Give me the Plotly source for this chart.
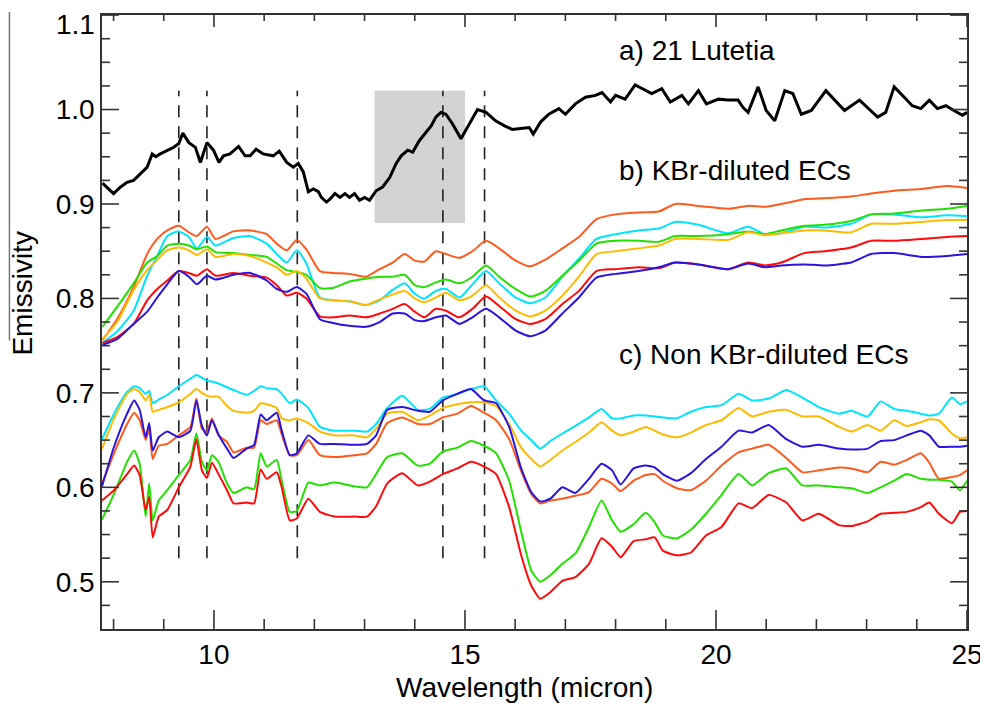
import plotly.graph_objects as go

# a) 21 Lutetia spectrum
lut_x = [7.78, 8.0, 8.14, 8.27, 8.4, 8.54, 8.67, 8.77, 8.84, 8.93, 9.07, 9.2, 9.3, 9.38, 9.5,
         9.63, 9.73, 9.86, 9.99, 10.1, 10.19, 10.32, 10.49, 10.62, 10.72, 10.84, 10.98, 11.18, 11.3, 11.45,
         11.58, 11.68, 11.78, 11.88, 11.98, 12.08, 12.14, 12.24, 12.31, 12.41, 12.51, 12.61, 12.7, 12.8, 12.9,
         13.0, 13.1, 13.23, 13.36, 13.5, 13.63, 13.73, 13.86, 13.96, 14.09, 14.22, 14.33, 14.42, 14.52, 14.62,
         14.75, 14.92, 15.09, 15.25, 15.42, 15.61, 15.78, 15.94, 16.11, 16.28, 16.36, 16.51, 16.67, 16.87, 17.0,
         17.2, 17.4, 17.6, 17.73, 17.9, 18.0, 18.19, 18.39, 18.59, 18.72, 18.92, 19.09, 19.32, 19.45, 19.65,
         19.81, 20.05, 20.24, 20.44, 20.54, 20.64, 20.84, 21.0, 21.17, 21.37, 21.53, 21.7, 21.9, 22.19, 22.56,
         22.86, 23.22, 23.38, 23.55, 23.75, 23.91, 24.08, 24.25, 24.41, 24.58, 24.74, 24.91, 25.0]
lut_y = [0.922, 0.911, 0.918, 0.923, 0.925, 0.932, 0.939, 0.953, 0.950, 0.953, 0.957, 0.960, 0.964, 0.975, 0.965,
         0.960, 0.944, 0.965, 0.957, 0.944, 0.951, 0.953, 0.961, 0.951, 0.951, 0.958, 0.953, 0.951, 0.956, 0.944,
         0.939, 0.943, 0.934, 0.913, 0.916, 0.913, 0.907, 0.902, 0.905, 0.911, 0.907, 0.911, 0.907, 0.911, 0.904,
         0.907, 0.904, 0.914, 0.918, 0.928, 0.943, 0.951, 0.957, 0.955, 0.967, 0.976, 0.983, 0.992, 0.997, 0.995,
         0.985, 0.969, 0.985, 1.000, 0.997, 0.988, 0.983, 0.979, 0.980, 0.981, 0.974, 0.987, 0.995, 1.001, 0.995,
         1.006, 1.013, 1.015, 1.018, 1.008, 1.015, 1.011, 1.026, 1.020, 1.017, 1.022, 1.008, 1.015, 1.006, 1.020,
         1.006, 1.011, 1.010, 1.010, 1.002, 0.997, 1.024, 0.999, 0.988, 1.020, 1.017, 0.995, 0.999, 1.020, 0.999,
         1.010, 0.992, 0.997, 1.024, 1.013, 1.004, 1.001, 1.010, 1.001, 1.004, 0.999, 0.994, 0.997]

# b) KBr-diluted ECs
kbr_x = [7.78, 8.07, 8.40, 8.67, 8.87, 9.07, 9.30, 9.50, 9.66, 9.86, 10.03, 10.39, 10.72, 11.05, 11.25,
         11.45, 11.65, 11.84, 12.11, 12.37, 12.70, 13.03, 13.30, 13.56, 13.80, 14.00, 14.19, 14.42, 14.62, 14.89,
         15.15, 15.42, 15.68, 16.01, 16.30, 16.60, 16.94, 17.27, 17.62, 18.00, 18.46, 18.86, 19.19, 19.65, 20.24,
         20.64, 20.97, 21.30, 21.76, 22.16, 22.69, 23.09, 23.55, 24.10, 24.60, 25.0]
kbr_orange = [0.756, 0.778, 0.812, 0.847, 0.863, 0.872, 0.877, 0.870, 0.866, 0.876, 0.863, 0.871, 0.872, 0.868, 0.858,
              0.851, 0.862, 0.852, 0.829, 0.827, 0.826, 0.823, 0.831, 0.838, 0.847, 0.840, 0.839, 0.850, 0.847, 0.843,
              0.850, 0.861, 0.853, 0.840, 0.834, 0.841, 0.853, 0.865, 0.884, 0.889, 0.891, 0.892, 0.900, 0.898, 0.895,
              0.898, 0.897, 0.900, 0.905, 0.906, 0.908, 0.911, 0.914, 0.916, 0.919, 0.917]
kbr_cyan = [0.753, 0.765, 0.787, 0.824, 0.845, 0.866, 0.871, 0.865, 0.853, 0.865, 0.856, 0.864, 0.866, 0.858, 0.847,
            0.838, 0.851, 0.837, 0.801, 0.798, 0.797, 0.793, 0.798, 0.809, 0.816, 0.805, 0.800, 0.808, 0.810, 0.801,
            0.815, 0.829, 0.816, 0.801, 0.795, 0.801, 0.823, 0.842, 0.863, 0.868, 0.872, 0.874, 0.881, 0.878, 0.869,
            0.876, 0.868, 0.869, 0.876, 0.875, 0.879, 0.889, 0.889, 0.886, 0.888, 0.887]
kbr_green = [0.770, 0.791, 0.816, 0.838, 0.845, 0.856, 0.858, 0.856, 0.852, 0.855, 0.849, 0.848, 0.846, 0.844, 0.837,
             0.830, 0.828, 0.825, 0.811, 0.811, 0.818, 0.821, 0.823, 0.823, 0.825, 0.814, 0.812, 0.817, 0.820, 0.816,
             0.823, 0.835, 0.823, 0.810, 0.802, 0.808, 0.824, 0.840, 0.858, 0.861, 0.861, 0.860, 0.866, 0.866, 0.868,
             0.871, 0.868, 0.872, 0.877, 0.878, 0.882, 0.889, 0.890, 0.893, 0.895, 0.898]
kbr_gold = [0.757, 0.775, 0.809, 0.830, 0.841, 0.851, 0.854, 0.851, 0.846, 0.852, 0.844, 0.847, 0.845, 0.838, 0.833,
            0.825, 0.829, 0.821, 0.800, 0.798, 0.797, 0.793, 0.799, 0.804, 0.808, 0.800, 0.796, 0.801, 0.806, 0.798,
            0.803, 0.814, 0.801, 0.787, 0.781, 0.787, 0.803, 0.823, 0.847, 0.850, 0.853, 0.856, 0.863, 0.863, 0.862,
            0.870, 0.867, 0.869, 0.872, 0.872, 0.870, 0.879, 0.879, 0.881, 0.883, 0.883]
kbr_red = [0.753, 0.759, 0.773, 0.798, 0.810, 0.819, 0.829, 0.827, 0.824, 0.831, 0.824, 0.827, 0.824, 0.822, 0.814,
           0.803, 0.806, 0.800, 0.781, 0.780, 0.782, 0.780, 0.784, 0.789, 0.794, 0.786, 0.780, 0.789, 0.787, 0.780,
           0.789, 0.802, 0.792, 0.778, 0.773, 0.778, 0.794, 0.808, 0.829, 0.831, 0.833, 0.832, 0.838, 0.836, 0.831,
           0.838, 0.835, 0.838, 0.848, 0.850, 0.854, 0.861, 0.861, 0.863, 0.865, 0.866]
kbr_blue = [0.751, 0.757, 0.773, 0.786, 0.801, 0.815, 0.829, 0.823, 0.815, 0.824, 0.820, 0.825, 0.827, 0.819, 0.810,
            0.807, 0.812, 0.805, 0.778, 0.774, 0.771, 0.770, 0.775, 0.784, 0.784, 0.777, 0.776, 0.780, 0.782, 0.773,
            0.780, 0.789, 0.780, 0.766, 0.760, 0.766, 0.784, 0.801, 0.822, 0.826, 0.829, 0.833, 0.838, 0.836, 0.831,
            0.837, 0.833, 0.835, 0.836, 0.835, 0.838, 0.847, 0.848, 0.844, 0.845, 0.847]

# c) Non KBr-diluted ECs
nk_x = [7.77, 8.01, 8.27, 8.41, 8.52, 8.64, 8.71, 8.78, 8.90, 9.07, 9.30, 9.53, 9.65, 9.76, 9.86,
        9.96, 10.09, 10.26, 10.39, 10.65, 10.80, 10.93, 11.05, 11.25, 11.35, 11.51, 11.65, 11.88, 12.11, 12.40,
        12.80, 13.05, 13.23, 13.45, 13.75, 14.06, 14.30, 14.56, 14.85, 15.12, 15.38, 15.62, 15.88, 16.12, 16.32,
        16.50, 16.70, 16.94, 17.20, 17.47, 17.72, 17.93, 18.10, 18.36, 18.60, 18.78, 18.94, 19.22, 19.50, 19.80,
        20.11, 20.45, 20.72, 21.05, 21.40, 21.72, 22.05, 22.45, 22.70, 23.02, 23.28, 23.55, 23.80, 24.08, 24.25,
        24.44, 24.70, 24.86, 25.0]
nk_cyan = [0.651, 0.678, 0.701, 0.707, 0.705, 0.699, 0.702, 0.689, 0.693, 0.698, 0.707, 0.715, 0.719, 0.716, 0.713,
           0.712, 0.710, 0.706, 0.703, 0.698, 0.702, 0.707, 0.705, 0.704, 0.699, 0.689, 0.693, 0.684, 0.664, 0.660,
           0.660, 0.659, 0.667, 0.684, 0.697, 0.682, 0.683, 0.695, 0.699, 0.704, 0.707, 0.692, 0.678, 0.660, 0.650,
           0.641, 0.649, 0.657, 0.665, 0.674, 0.683, 0.673, 0.673, 0.676, 0.676, 0.675, 0.674, 0.673, 0.680, 0.685,
           0.687, 0.699, 0.692, 0.694, 0.703, 0.695, 0.685, 0.678, 0.681, 0.675, 0.691, 0.683, 0.681, 0.678, 0.676,
           0.678, 0.695, 0.688, 0.691]
nk_gold = [0.641, 0.673, 0.699, 0.704, 0.701, 0.692, 0.698, 0.680, 0.682, 0.685, 0.690, 0.699, 0.704, 0.700, 0.697,
           0.696, 0.696, 0.686, 0.681, 0.679, 0.681, 0.689, 0.688, 0.684, 0.673, 0.671, 0.673, 0.668, 0.659, 0.655,
           0.655, 0.653, 0.662, 0.678, 0.680, 0.671, 0.676, 0.684, 0.688, 0.690, 0.690, 0.686, 0.667, 0.642, 0.630,
           0.622, 0.629, 0.639, 0.648, 0.658, 0.669, 0.660, 0.655, 0.659, 0.664, 0.660, 0.656, 0.653, 0.658, 0.666,
           0.671, 0.684, 0.675, 0.680, 0.682, 0.675, 0.675, 0.664, 0.659, 0.666, 0.660, 0.671, 0.665, 0.669, 0.672,
           0.671, 0.657, 0.652, 0.653]
nk_blue = [0.601, 0.643, 0.678, 0.692, 0.682, 0.653, 0.668, 0.639, 0.653, 0.659, 0.653, 0.660, 0.692, 0.665, 0.655,
           0.671, 0.656, 0.641, 0.631, 0.641, 0.645, 0.677, 0.671, 0.679, 0.660, 0.634, 0.636, 0.655, 0.646, 0.646,
           0.645, 0.646, 0.655, 0.682, 0.685, 0.681, 0.680, 0.692, 0.699, 0.704, 0.692, 0.689, 0.664, 0.620, 0.595,
           0.585, 0.588, 0.600, 0.594, 0.609, 0.625, 0.618, 0.603, 0.620, 0.623, 0.621, 0.614, 0.607, 0.615, 0.630,
           0.643, 0.660, 0.658, 0.666, 0.651, 0.643, 0.645, 0.641, 0.640, 0.641, 0.649, 0.650, 0.655, 0.660, 0.655,
           0.643, 0.643, 0.643, 0.644]
nk_orange = [0.604, 0.636, 0.667, 0.679, 0.671, 0.650, 0.662, 0.630, 0.644, 0.646, 0.655, 0.664, 0.694, 0.662, 0.659,
             0.673, 0.655, 0.648, 0.637, 0.642, 0.642, 0.671, 0.667, 0.671, 0.656, 0.634, 0.634, 0.650, 0.634, 0.632,
             0.634, 0.636, 0.646, 0.668, 0.674, 0.667, 0.667, 0.674, 0.678, 0.686, 0.679, 0.671, 0.651, 0.617, 0.593,
             0.583, 0.586, 0.588, 0.591, 0.595, 0.609, 0.604, 0.596, 0.607, 0.613, 0.614, 0.607, 0.599, 0.597, 0.607,
             0.623, 0.637, 0.641, 0.645, 0.631, 0.616, 0.618, 0.621, 0.620, 0.616, 0.627, 0.624, 0.629, 0.636, 0.626,
             0.609, 0.611, 0.613, 0.618]
nk_green = [0.566, 0.593, 0.627, 0.639, 0.625, 0.569, 0.604, 0.565, 0.586, 0.597, 0.613, 0.629, 0.657, 0.627, 0.618,
            0.634, 0.627, 0.604, 0.594, 0.600, 0.598, 0.636, 0.622, 0.629, 0.607, 0.574, 0.575, 0.605, 0.602, 0.605,
            0.601, 0.600, 0.614, 0.632, 0.636, 0.623, 0.625, 0.638, 0.642, 0.649, 0.644, 0.636, 0.607, 0.553, 0.512,
            0.500, 0.507, 0.519, 0.530, 0.558, 0.586, 0.565, 0.553, 0.561, 0.573, 0.563, 0.549, 0.546, 0.555, 0.572,
            0.592, 0.614, 0.602, 0.615, 0.620, 0.602, 0.602, 0.600, 0.599, 0.594, 0.600, 0.607, 0.614, 0.609, 0.608,
            0.608, 0.606, 0.597, 0.607]
nk_red = [0.586, 0.597, 0.614, 0.623, 0.613, 0.576, 0.590, 0.547, 0.569, 0.576, 0.600, 0.622, 0.651, 0.618, 0.610,
          0.626, 0.614, 0.597, 0.583, 0.584, 0.583, 0.619, 0.609, 0.616, 0.600, 0.565, 0.567, 0.588, 0.574, 0.569,
          0.569, 0.569, 0.580, 0.604, 0.615, 0.602, 0.606, 0.614, 0.620, 0.627, 0.622, 0.614, 0.579, 0.528, 0.496,
          0.482, 0.489, 0.501, 0.505, 0.519, 0.546, 0.537, 0.526, 0.543, 0.545, 0.547, 0.533, 0.528, 0.531, 0.549,
          0.558, 0.583, 0.578, 0.592, 0.584, 0.565, 0.572, 0.560, 0.559, 0.564, 0.572, 0.573, 0.574, 0.579, 0.584,
          0.572, 0.562, 0.574, 0.575]

# band positions (dashed) and the grey box
band_x = [9.3, 9.86, 11.66, 14.56, 15.39]
band_y = [0.525, 1.02]
box_x = [13.2, 15.0]
box_y = [0.88, 1.02]

# axis ranges and frame tick positions
x_range = [7.77, 25.0001]
y_range = [0.45, 1.1001]
x_major = [10, 15, 20, 25]
x_minor = [8, 9, 11, 12, 13, 14, 16, 17, 18, 19, 21, 22, 23, 24]
y_major = [0.5, 0.6, 0.7, 0.8, 0.9, 1.0, 1.1]
y_minor = [0.475, 0.525, 0.55, 0.575, 0.625, 0.65, 0.675, 0.725, 0.75, 0.775, 0.825, 0.85, 0.875,
           0.925, 0.95, 0.975, 1.025, 1.05, 1.075]

colors = {
    'orange': '#FF5A1E',
    'cyan': '#00E4FF',
    'green': '#22E000',
    'gold': '#FFBA00',
    'red': '#FF0A0A',
    'blue': '#2A14E0',
}

FONT = 'Liberation Sans, Arial, Helvetica, sans-serif'
AXIS_COLOR = '#333333'
FIG_W, FIG_H = 980, 697
MARGIN = dict(l=94, r=17, t=5, b=76)


def add_frame_ticks(fig):
    # tick marks on all four sides, lengths given in pixels and turned into axis units
    px_x = (x_range[1] - x_range[0]) / (FIG_W - MARGIN['l'] - MARGIN['r'])
    px_y = (y_range[1] - y_range[0]) / (FIG_H - MARGIN['t'] - MARGIN['b'])
    tx, ty = [], []
    for vals, bottom_len, top_len in [(x_major, 19, 12), (x_minor, 10, 6)]:
        for v in vals:
            tx += [v, v, None, v, v, None]
            ty += [y_range[0], y_range[0] + bottom_len * px_y, None,
                   y_range[1], y_range[1] - top_len * px_y, None]
    for vals, length in [(y_major, 17), (y_minor, 8)]:
        for v in vals:
            tx += [x_range[0], x_range[0] + length * px_x, None,
                   x_range[1], x_range[1] - length * px_x, None]
            ty += [v, v, None, v, v, None]
    fig.add_trace(go.Scatter(x=tx, y=ty, mode='lines', line=dict(color=AXIS_COLOR, width=1.6),
                             hoverinfo='skip', showlegend=False, connectgaps=False))


def main():
    fig = go.Figure()

    fig.add_shape(type='rect', xref='x', yref='y',
                  x0=box_x[0], x1=box_x[1], y0=box_y[0], y1=box_y[1],
                  fillcolor='#D3D3D3', line=dict(width=0), layer='below')

    for bx in band_x:
        fig.add_trace(go.Scatter(x=[bx, bx], y=band_y, mode='lines',
                                 line=dict(color='#222222', width=1.6, dash='12px,9px'),
                                 hoverinfo='skip', showlegend=False))

    fig.add_trace(go.Scatter(x=lut_x, y=lut_y, mode='lines', name='21 Lutetia',
                             line=dict(color='black', width=3), showlegend=False))

    kbr = [('orange', kbr_orange), ('cyan', kbr_cyan), ('green', kbr_green),
           ('gold', kbr_gold), ('red', kbr_red), ('blue', kbr_blue)]
    for key, ys in kbr:
        fig.add_trace(go.Scatter(x=kbr_x, y=ys, mode='lines', name=key,
                                 line=dict(color=colors[key], width=2, shape='spline', smoothing=0.6),
                                 showlegend=False))

    nk = [('cyan', nk_cyan), ('gold', nk_gold), ('orange', nk_orange),
          ('blue', nk_blue), ('green', nk_green), ('red', nk_red)]
    for key, ys in nk:
        fig.add_trace(go.Scatter(x=nk_x, y=ys, mode='lines', name=key,
                                 line=dict(color=colors[key], width=2, shape='spline', smoothing=0.5),
                                 showlegend=False))

    add_frame_ticks(fig)

    labels = [('a) 21 Lutetia', 1.063), ('b) KBr-diluted ECs', 0.935), ('c) Non KBr-diluted ECs', 0.741)]
    for text, yy in labels:
        fig.add_annotation(x=18.02, y=yy, xref='x', yref='y', text=text, showarrow=False,
                           xanchor='left', yanchor='middle', font=dict(size=28, color='black', family=FONT))

    fig.add_annotation(x=-0.092, y=0.547, xref='paper', yref='paper', text='Emissivity',
                       textangle=-90, showarrow=False, xanchor='center', yanchor='middle',
                       font=dict(size=28, color='black', family=FONT))
    fig.add_annotation(x=0.489, y=-0.096, xref='paper', yref='paper', text='Wavelength (micron)',
                       showarrow=False, xanchor='center', yanchor='middle',
                       font=dict(size=28, color='black', family=FONT))
    # top tick label sits just under the frame, so it is placed by hand
    fig.add_annotation(x=0, y=0.985, xref='paper', yref='paper', text='1.1', showarrow=False,
                       xanchor='right', yanchor='middle', xshift=-5,
                       font=dict(size=28, color='black', family=FONT))
    # thin rule left of the y title
    fig.add_shape(type='line', xref='paper', yref='paper', x0=-0.107, x1=-0.107, y0=0.47, y1=1.005,
                  line=dict(color='#777777', width=1.5))

    fig.update_xaxes(range=x_range, tickmode='array', tickvals=x_major,
                     ticks='', showline=True, linecolor=AXIS_COLOR, linewidth=1.5, mirror=True,
                     showgrid=False, zeroline=False,
                     tickfont=dict(size=28, color='black', family=FONT))
    fig.update_yaxes(range=y_range, tickmode='array', tickvals=y_major[:-1],
                     ticktext=['%.1f' % v for v in y_major[:-1]],
                     ticks='', showline=True, linecolor=AXIS_COLOR, linewidth=1.5, mirror=True,
                     showgrid=False, zeroline=False,
                     tickfont=dict(size=28, color='black', family=FONT))

    # the page body adds an 8px margin, so the figure is 8px smaller than the window
    fig.update_layout(width=FIG_W, height=FIG_H, plot_bgcolor='white', paper_bgcolor='white',
                      margin=MARGIN, showlegend=False,
                      font=dict(family=FONT, color='black'))
    fig.write_html('out.html')


if __name__ == '__main__':
    main()
